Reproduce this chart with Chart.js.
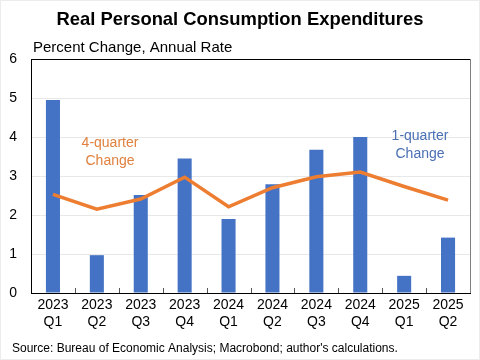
<!DOCTYPE html>
<html><head><meta charset="utf-8">
<script src="https://cdn.jsdelivr.net/npm/chart.js@4/dist/chart.umd.min.js"></script>
<style>
html,body{margin:0;padding:0;background:#fff;}
#wrap{position:relative;width:480px;height:360px;box-sizing:border-box;border:1px solid #ececec;}
canvas{display:block;}
</style></head>
<body><div id="wrap"><canvas id="c" width="478" height="358"></canvas></div>
<script>
const categories = [["2023","Q1"],["2023","Q2"],["2023","Q3"],["2023","Q4"],["2024","Q1"],["2024","Q2"],["2024","Q3"],["2024","Q4"],["2025","Q1"],["2025","Q2"]];
const oneQuarter = [4.95, 0.97, 2.51, 3.45, 1.9, 2.79, 3.67, 4.0, 0.44, 1.42];
const fourQuarter = [2.53, 2.15, 2.41, 2.97, 2.21, 2.7, 2.98, 3.1, 2.73, 2.38];
const yTicks = [0,1,2,3,4,5,6];

const FONT = "'Liberation Sans', Arial, sans-serif";

const deco = {
  id: 'deco',
  afterDraw(chart) {
    const {ctx, chartArea: a, scales} = chart;
    ctx.save();
    ctx.strokeStyle = '#000'; ctx.lineWidth = 1;
    ctx.beginPath(); ctx.moveTo(a.left, a.top + 0.5); ctx.lineTo(a.right, a.top + 0.5); ctx.stroke();
    ctx.strokeStyle = '#7f7f7f';
    ctx.beginPath(); ctx.moveTo(a.right + 0.5, a.top); ctx.lineTo(a.right + 0.5, a.bottom); ctx.stroke();
    ctx.strokeStyle = '#555';
    const x = scales.x;
    for (let i = 1; i < categories.length; i++) {
      const px = Math.round((x.getPixelForValue(i - 1) + x.getPixelForValue(i)) / 2) + 0.5;
      ctx.beginPath(); ctx.moveTo(px, a.bottom); ctx.lineTo(px, a.bottom - 5); ctx.stroke();
    }
    ctx.fillStyle = '#000';
    ctx.textBaseline = 'middle';
    ctx.textAlign = 'center';
    ctx.font = 'bold 18.4px ' + FONT;
    ctx.fillText('Real Personal Consumption Expenditures', 239, 19);
    ctx.textAlign = 'left';
    ctx.font = '15px ' + FONT;
    ctx.fillText('Percent Change, Annual Rate', 32, 47);
    ctx.font = '12px ' + FONT;
    ctx.fillText("Source: Bureau of Economic Analysis; Macrobond; author's calculations.", 11, 348);
    ctx.textAlign = 'center';
    ctx.font = '14px ' + FONT;
    ctx.fillStyle = '#E0813F';
    ctx.fillText('4-quarter', 109, 142);
    ctx.fillText('Change', 109, 160);
    ctx.fillStyle = '#4A6FB5';
    ctx.fillText('1-quarter', 419, 135);
    ctx.fillText('Change', 419, 153);
    ctx.restore();
  }
};

new Chart(document.getElementById('c'), {
  data: {
    labels: categories,
    datasets: [
      { type: 'line', data: fourQuarter, borderColor: '#ED7D31', borderWidth: 3.5, pointRadius: 0, tension: 0, order: 0 },
      { type: 'bar', data: oneQuarter, backgroundColor: '#4472C4', barPercentage: 0.32, categoryPercentage: 1, order: 1 }
    ]
  },
  options: {
    responsive: false,
    animation: false,
    layout: { padding: { top: 58, right: 9, left: 0, bottom: 0 } },
    plugins: { legend: { display: false }, tooltip: { enabled: false } },
    scales: {
      x: {
        grid: { display: false, drawTicks: false },
        border: { color: '#000', width: 1 },
        ticks: { color: '#000', font: { family: FONT, size: 14 }, padding: 4, maxRotation: 0, autoSkip: false },
        afterFit(s) { s.height = 66; }
      },
      y: {
        min: 0, max: 6,
        afterBuildTicks(s) { s.ticks = yTicks.map(v => ({ value: v })); },
        grid: { color: '#e8e8e8', drawTicks: false },
        border: { color: '#000', width: 1 },
        ticks: { color: '#000', font: { family: FONT, size: 14 }, padding: 14 },
        afterFit(s) { s.width = 30; }
      }
    }
  },
  plugins: [deco]
});
</script></body></html>
